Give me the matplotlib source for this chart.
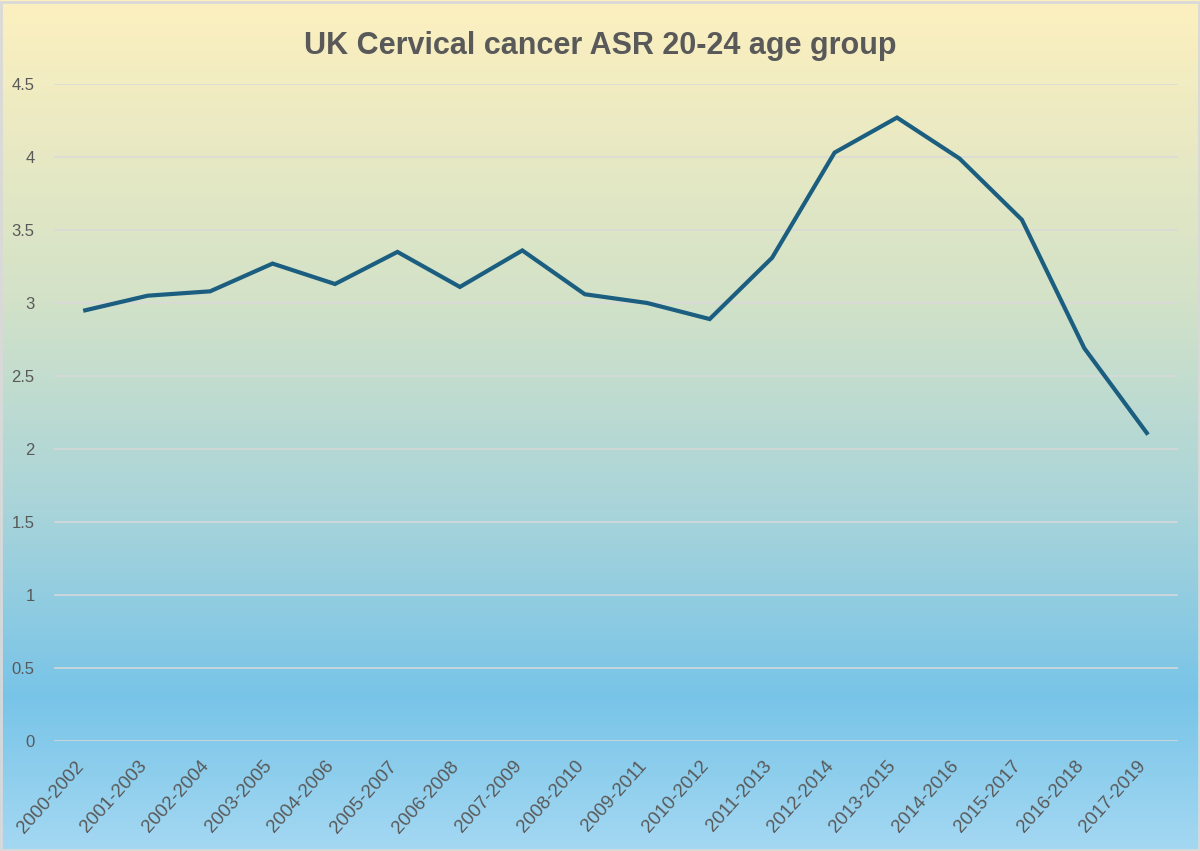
import numpy as np
import matplotlib
matplotlib.use("Agg")
import matplotlib.pyplot as plt
from matplotlib.colors import LinearSegmentedColormap
from matplotlib.transforms import ScaledTranslation

# Data
periods = ["2000-2002", "2001-2003", "2002-2004", "2003-2005", "2004-2006",
           "2005-2007", "2006-2008", "2007-2009", "2008-2010", "2009-2011",
           "2010-2012", "2011-2013", "2012-2014", "2013-2015", "2014-2016",
           "2015-2017", "2016-2018", "2017-2019"]
asr = [2.95, 3.05, 3.08, 3.27, 3.13, 3.35, 3.11, 3.36, 3.06, 3.00,
       2.89, 3.31, 4.03, 4.27, 3.99, 3.57, 2.69, 2.11]
yticks = [0, 0.5, 1, 1.5, 2, 2.5, 3, 3.5, 4, 4.5]

text_col = "#595959"
plt.rcParams["font.family"] = ["Liberation Sans", "DejaVu Sans"]

fig = plt.figure(figsize=(12, 8.51), dpi=100)

# Gradient background
bg = fig.add_axes([0, 0, 1, 1], zorder=0)
cmap = LinearSegmentedColormap.from_list(
    "bg", [(0.0, "#FDF0BF"), (0.35, "#D3E2C8"), (0.6, "#A8D4DA"),
           (0.82, "#78C4E8"), (1.0, "#A4D8F2")])
grad = np.linspace(0, 1, 256).reshape(-1, 1)
bg.imshow(grad, aspect="auto", cmap=cmap, extent=[0, 1, 0, 1], origin="upper")
bg.set_xlim(0, 1)
bg.set_ylim(0, 1)
bg.axis("off")
fig.patches.append(plt.Rectangle((0.001, 0.001), 0.998, 0.997, transform=fig.transFigure,
                                 fill=False, edgecolor="#D9D9D9", linewidth=2))

# Main axes: plot area from x=54..1178 px, y=84..741 px
ax = fig.add_axes([54 / 1200, (851 - 741) / 851, (1178 - 54) / 1200, (741 - 84) / 851], zorder=1)
ax.patch.set_alpha(0)

x = np.arange(len(periods))
ax.plot(x, asr, color="#1B5E80", linewidth=3, solid_joinstyle="miter", zorder=3)

ax.set_xlim(-0.5, len(periods) - 0.5)
ax.set_ylim(0, 4.5)
ax.set_yticks(yticks)
ax.set_yticklabels([f"{v:g}" for v in yticks])
ax.yaxis.grid(True, color="#D9D9D9", linewidth=1.1)
ax.set_axisbelow(True)
ax.set_xticks(x)
ax.set_xticklabels(periods, rotation=48, ha="right", rotation_mode="anchor")
ax.tick_params(axis="both", length=0, colors=text_col, labelsize=12)
ax.tick_params(axis="x", pad=12, labelsize=13.5)
ax.tick_params(axis="y", pad=14)
shift = ScaledTranslation(-10 / 100, 0, fig.dpi_scale_trans)
for lbl in ax.get_xticklabels():
    lbl.set_transform(lbl.get_transform() + shift)
for sp in ax.spines.values():
    sp.set_visible(False)

fig.text(0.5, 1 - 54 / 851, "UK Cervical cancer ASR 20-24 age group", ha="center", va="baseline",
         fontsize=22, fontweight="bold", color=text_col,
         family=["Liberation Sans", "DejaVu Sans"])

fig.savefig("out.png", dpi=100)
